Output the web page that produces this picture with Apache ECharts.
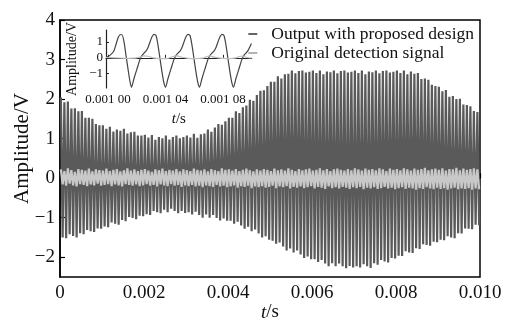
<!DOCTYPE html>
<html><head><meta charset="utf-8">
<script src="https://cdn.jsdelivr.net/npm/echarts@6/dist/echarts.min.js"></script>
<style>html,body{margin:0;padding:0;background:#fff}#c{width:506px;height:324px}</style>
</head><body><div id="c"></div>
<script>
// ---- main plot data ----
const seriesNames = ['Output with proposed design', 'Original detection signal'];
const tStart = 0, tEnd = 0.01, cycles = 120;
const xTickValues = [0, 0.002, 0.004, 0.006, 0.008, 0.010];
const xTickLabels = ['0', '0.002', '0.004', '0.006', '0.008', '0.010'];
const yTickValues = [-2, -1, 0, 1, 2, 3, 4];
const yTickLabels = ['\u22122', '\u22121', '0', '1', '2', '3', '4'];

const outputPeaks = [
2.04,1.92,1.94,1.76,1.77,1.69,1.70,1.53,1.53,1.50,1.37,1.34,
1.34,1.25,1.30,1.18,1.23,1.20,1.25,1.13,1.16,1.17,1.08,1.08,
1.10,1.03,1.09,0.97,1.04,1.01,1.08,0.98,1.04,1.08,1.01,1.04,
1.08,1.03,1.12,1.02,1.11,1.13,1.23,1.17,1.28,1.37,1.35,1.44,
1.53,1.53,1.69,1.65,1.79,1.84,1.98,1.96,2.10,2.21,2.22,2.33,
2.44,2.44,2.58,2.52,2.63,2.64,2.72,2.65,2.71,2.72,2.67,2.69,
2.72,2.66,2.72,2.63,2.70,2.68,2.72,2.65,2.71,2.72,2.67,2.69,
2.72,2.66,2.72,2.63,2.70,2.68,2.72,2.65,2.71,2.72,2.67,2.69,
2.72,2.66,2.72,2.63,2.70,2.64,2.66,2.51,2.52,2.49,2.36,2.33,
2.31,2.20,2.23,2.06,2.08,2.00,2.01,1.86,1.85,1.82,1.70,1.67];
const outputTroughs = [
-1.50,-1.52,-1.42,-1.46,-1.50,-1.39,-1.42,-1.31,-1.34,-1.36,-1.27,-1.28,
-1.22,-1.24,-1.12,-1.15,-1.18,-1.06,-1.09,-0.98,-1.01,-1.04,-0.95,-0.96,
-0.91,-0.93,-0.83,-0.86,-0.89,-0.80,-0.86,-0.77,-0.83,-0.89,-0.83,-0.88,
-0.86,-0.92,-0.85,-0.93,-1.00,-0.92,-1.00,-0.93,-1.01,-1.07,-1.02,-1.08,
-1.08,-1.15,-1.10,-1.20,-1.28,-1.23,-1.34,-1.30,-1.40,-1.50,-1.47,-1.56,
-1.58,-1.66,-1.63,-1.73,-1.83,-1.78,-1.88,-1.83,-1.93,-2.02,-1.98,-2.05,
-2.05,-2.12,-2.07,-2.16,-2.23,-2.15,-2.23,-2.16,-2.23,-2.28,-2.22,-2.26,
-2.23,-2.26,-2.18,-2.23,-2.27,-2.15,-2.19,-2.07,-2.11,-2.13,-2.02,-2.03,
-1.96,-1.97,-1.85,-1.88,-1.89,-1.77,-1.79,-1.67,-1.69,-1.71,-1.61,-1.62,
-1.56,-1.57,-1.47,-1.50,-1.52,-1.39,-1.40,-1.27,-1.28,-1.29,-1.18,-1.19];
const originalPeaks = [
0.22,0.18,0.25,0.20,0.16,0.23,0.21,0.19,0.24,0.17,0.22,0.20,
0.19,0.24,0.18,0.21,0.23,0.17,0.20,0.25,0.19,0.22,0.18,0.21,
0.23,0.19,0.16,0.22,0.20,0.24,0.18,0.21,0.19,0.23,0.17,0.22,
0.20,0.18,0.24,0.21,0.19,0.22,0.17,0.23,0.20,0.18,0.25,0.21,
0.22,0.19,0.23,0.18,0.21,0.24,0.20,0.17,0.22,0.19,0.23,0.21,
0.18,0.24,0.20,0.22,0.19,0.25,0.21,0.18,0.23,0.20,0.22,0.24,
0.19,0.21,0.25,0.20,0.23,0.18,0.22,0.24,0.21,0.19,0.23,0.20,
0.25,0.22,0.19,0.24,0.21,0.23,0.20,0.25,0.22,0.18,0.24,0.21,
0.23,0.20,0.25,0.22,0.19,0.24,0.21,0.23,0.26,0.20,0.22,0.24,
0.21,0.25,0.19,0.23,0.22,0.26,0.20,0.24,0.21,0.23,0.25,0.22];
const originalTroughs = [
-0.16,-0.19,-0.14,-0.18,-0.21,-0.15,-0.17,-0.20,-0.16,-0.18,-0.14,-0.19,
-0.17,-0.15,-0.20,-0.16,-0.18,-0.21,-0.15,-0.17,-0.19,-0.16,-0.20,-0.18,
-0.15,-0.19,-0.17,-0.21,-0.16,-0.18,-0.20,-0.15,-0.19,-0.17,-0.22,-0.18,
-0.20,-0.17,-0.21,-0.19,-0.23,-0.18,-0.20,-0.22,-0.17,-0.21,-0.19,-0.23,
-0.21,-0.18,-0.24,-0.20,-0.22,-0.19,-0.25,-0.21,-0.23,-0.20,-0.24,-0.22,
-0.19,-0.25,-0.21,-0.23,-0.20,-0.26,-0.22,-0.24,-0.21,-0.25,-0.23,-0.20,
-0.26,-0.22,-0.24,-0.27,-0.21,-0.25,-0.23,-0.26,-0.22,-0.24,-0.27,-0.23,
-0.25,-0.22,-0.28,-0.24,-0.26,-0.23,-0.27,-0.25,-0.22,-0.26,-0.24,-0.28,
-0.25,-0.23,-0.27,-0.24,-0.26,-0.29,-0.25,-0.27,-0.23,-0.26,-0.28,-0.24,
-0.27,-0.25,-0.29,-0.26,-0.24,-0.28,-0.26,-0.27,-0.25,-0.29,-0.26,-0.28];

// ---- inset data (time offset from 0.001 s in microseconds, value in V) ----
const insetXTickValues = [0.00100, 0.00104, 0.00108];
const insetXTickLabels = ['0.001 00', '0.001 04', '0.001 08'];
const insetYTickValues = [-1, 0, 1];
const insetYTickLabels = ['\u22121', '0', '1'];
const insetOutputTimeUs = [
-1.39,0.70,2.78,4.17,5.57,6.96,8.35,9.74,11.13,12.52,13.91,15.30,16.35,
18.09,20.17,22.26,23.65,25.04,26.43,27.83,29.22,30.61,32.00,33.39,34.78,36.17,37.57,38.96,40.00,
41.74,43.82,45.91,47.30,48.69,50.09,51.48,52.87,54.26,55.65,57.04,58.43,59.83,61.22,62.61,63.65,
65.39,67.47,69.56,70.96,72.35,73.74,75.13,76.52,77.91,79.30,80.70,82.09,83.48,84.87,86.26,87.30,
89.04,91.12,93.21,94.61,96.00,97.39,98.78,99.83];
const insetOutputValues = [
0.05,0.12,0.28,0.45,0.85,1.25,1.45,1.45,1.00,0.15,-0.70,-1.50,-1.85,
-1.30,-0.70,-0.10,0.15,0.30,0.42,0.65,1.00,1.32,1.47,1.40,0.80,-0.05,-0.90,-1.60,-1.85,
-1.30,-0.70,-0.10,0.15,0.30,0.42,0.65,1.00,1.32,1.47,1.40,0.80,-0.05,-0.90,-1.60,-1.85,
-1.30,-0.70,-0.10,0.15,0.30,0.42,0.65,1.00,1.32,1.47,1.40,0.80,-0.05,-0.90,-1.60,-1.85,
-1.30,-0.70,-0.10,0.15,0.30,0.45,0.70,0.90];
const insetOriginalTimeUs = [
-1.39,4.87,11.83,18.78,22.26,25.04,27.83,31.31,36.17,41.74,45.22,48.00,50.78,
55.65,60.52,66.09,68.87,70.96,73.74,79.30,84.87,89.04,91.12,93.91,96.70,99.83];
const insetOriginalValues = [
0.02,0.00,-0.03,-0.02,0.05,0.12,0.10,0.00,-0.05,-0.03,0.08,0.12,0.05,
-0.03,-0.05,-0.02,0.08,0.12,0.04,-0.04,-0.05,0.00,0.08,0.10,0.02,-0.02];

// ---- build series data ----
const step = (tEnd - tStart) / cycles;
function zigzag(peaks, troughs) {
  const d = [];
  for (let k = 0; k < peaks.length; k++) {
    d.push([tStart + (k + 0.25) * step, peaks[k]]);
    d.push([tStart + (k + 0.75) * step, troughs[k]]);
  }
  return d;
}
const pairs = (ts, vs) => ts.map((t, i) => [0.001 + t * 1e-6, vs[i]]);

const FONT = 'Liberation Serif';
const txt = '#111';
const chart = echarts.init(document.getElementById('c'), null, { renderer: 'canvas' });
chart.setOption({
  animation: false,
  backgroundColor: '#fff',
  textStyle: { fontFamily: FONT },
  grid: [
    { left: 60, right: 26, top: 20, bottom: 47, outerBoundsMode: 'none', containLabel: false,
      show: true, borderColor: '#000', borderWidth: 1.5, backgroundColor: 'transparent' },
    { left: 106, top: 30, width: 145.7, height: 58, z: 10, outerBoundsMode: 'none', containLabel: false }
  ],
  legend: {
    orient: 'vertical', right: 27, top: 20, itemGap: 1,
    icon: 'rect', itemWidth: 9, itemHeight: 1.5,
    textStyle: { fontFamily: FONT, fontSize: 17.5, color: txt, padding: [0, 0, 0, 9] },
    data: [
      { name: seriesNames[0], itemStyle: { color: '#333' } },
      { name: seriesNames[1], itemStyle: { color: '#9a9a9a' } }
    ]
  },
  xAxis: [
    {
      gridIndex: 0, type: 'value', min: tStart, max: tEnd, interval: 0.002,
      name: '{i|t}/s', nameLocation: 'middle', nameGap: 26, nameMoveOverlap: false,
      nameTextStyle: { fontFamily: FONT, fontSize: 19, color: txt, rich: { i: { fontStyle: 'italic', fontFamily: FONT, fontSize: 19, color: txt } } },
      axisLine: { lineStyle: { color: '#000', width: 1.5 } },
      axisTick: { inside: true, length: 5, lineStyle: { color: '#000', width: 1.2 } },
      axisLabel: { fontFamily: FONT, fontSize: 19, color: txt, margin: 7,
        formatter: v => { const i = xTickValues.findIndex(x => Math.abs(x - v) < 1e-9); return i >= 0 ? xTickLabels[i] : ''; } },
      splitLine: { show: false }
    },
    {
      gridIndex: 1, type: 'value', min: 0.0009986, max: 0.0011, z: 10,
      name: '{i|t}/s', nameLocation: 'middle', nameGap: 24, nameMoveOverlap: false,
      nameTextStyle: { fontFamily: FONT, fontSize: 15, color: txt, rich: { i: { fontStyle: 'italic', fontFamily: FONT, fontSize: 15, color: txt } } },
      axisLine: { lineStyle: { color: '#222', width: 1.2 } },
      axisTick: { inside: true, length: 3, customValues: insetXTickValues, lineStyle: { color: '#222' } },
      axisLabel: { fontFamily: FONT, fontSize: 13, color: txt, margin: 5, customValues: insetXTickValues,
        formatter: v => { const i = insetXTickValues.findIndex(x => Math.abs(x - v) < 1e-10); return i >= 0 ? insetXTickLabels[i] : ''; } },
      splitLine: { show: false }
    }
  ],
  yAxis: [
    {
      gridIndex: 0, type: 'value', min: -2.5, max: 4,
      name: 'Amplitude/V', nameLocation: 'middle', nameGap: 27, nameMoveOverlap: false,
      nameTextStyle: { fontFamily: FONT, fontSize: 21, color: txt },
      axisLine: { lineStyle: { color: '#000', width: 1.5 } },
      axisTick: { inside: true, length: 5, customValues: yTickValues, lineStyle: { color: '#000', width: 1.2 } },
      axisLabel: { fontFamily: FONT, fontSize: 19, color: txt, margin: 5, customValues: yTickValues,
        formatter: v => { const i = yTickValues.indexOf(Math.round(v)); return i >= 0 ? yTickLabels[i] : ''; } },
      splitLine: { show: false }
    },
    {
      gridIndex: 1, type: 'value', min: -1.9, max: 1.75, z: 10,
      name: 'Amplitude/V', nameLocation: 'middle', nameGap: 27, nameMoveOverlap: false,
      nameTextStyle: { fontFamily: FONT, fontSize: 14, color: txt },
      axisLine: { lineStyle: { color: '#222', width: 1.2 } },
      axisTick: { inside: true, length: 3, customValues: insetYTickValues, lineStyle: { color: '#222' } },
      axisLabel: { fontFamily: FONT, fontSize: 13, color: txt, margin: 3, customValues: insetYTickValues,
        formatter: v => { const i = insetYTickValues.indexOf(Math.round(v)); return i >= 0 ? insetYTickLabels[i] : ''; } },
      splitLine: { show: false }
    }
  ],
  series: [
    { name: seriesNames[0], type: 'line', xAxisIndex: 0, yAxisIndex: 0, showSymbol: false, sampling: null,
      lineStyle: { color: '#5a5a5a', width: 2.2 }, itemStyle: { color: '#333' }, data: zigzag(outputPeaks, outputTroughs), z: 2 },
    { name: seriesNames[1], type: 'line', xAxisIndex: 0, yAxisIndex: 0, showSymbol: false,
      lineStyle: { color: '#c8c8c8', width: 2.2 }, itemStyle: { color: '#9a9a9a' }, data: zigzag(originalPeaks, originalTroughs), z: 3 },
    { name: seriesNames[0], type: 'line', xAxisIndex: 1, yAxisIndex: 1, showSymbol: false, smooth: 0.25,
      lineStyle: { color: '#444', width: 1.2 }, data: pairs(insetOutputTimeUs, insetOutputValues), z: 11 },
    { name: seriesNames[1], type: 'line', xAxisIndex: 1, yAxisIndex: 1, showSymbol: false, smooth: 0.25,
      lineStyle: { color: '#bdbdbd', width: 1.2 }, data: pairs(insetOriginalTimeUs, insetOriginalValues), z: 11 }
  ]
});
</script></body></html>
